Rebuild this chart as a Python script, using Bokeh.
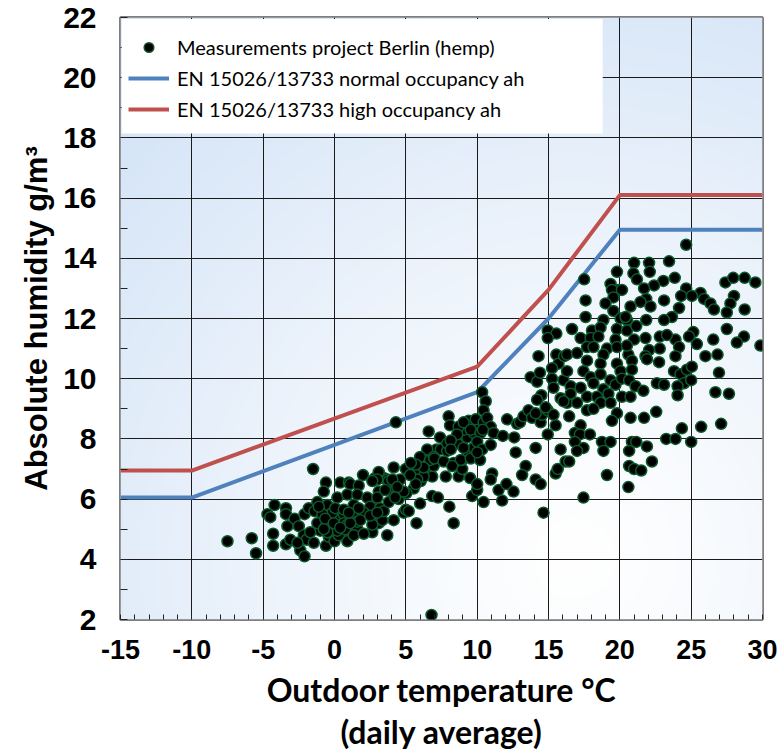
import numpy as np
from bokeh.plotting import figure
from bokeh.models import (Range1d, SingleIntervalTicker, Legend, LegendItem,
                          CustomJSTickFormatter, BoxAnnotation)
from bokeh.embed import file_html
from bokeh.resources import INLINE

# ---------------- data ----------------
# EN 15026 / 13733 limit curves (outdoor temperature vs. absolute humidity)
temp_std = [-15, -10, 10, 15, 20, 30]
ah_normal = [6.05, 6.05, 9.55, 12.0, 14.95, 14.95]
ah_high = [6.95, 6.95, 10.4, 12.95, 16.1, 16.1]

temp_cold = [-7.5, -5.8, -5.5, -1.5, -4.2, -4.7, -4.5, -3.4, -3.4, -4.3,
             -4.3, -3.3, -3.4, -3.1, -2.8, -2.1, -2.5, -2.15, -2.4, -2.1,
             -1.95, -1.8, -0.6, -0.75, -1.2, -1.4, -0.85, -1.0, -0.6, -0.4,
             -0.5, 0.2, 0.4, 1.0, 0.1, 0.0, 0.8, 0.65, 0.9, 0.3,
             0.9, 2.75, 1.25, -0.15, -0.85, -1.2, -0.6, 0.65, 1.35, 2.75,
             1.6, 0.2, -0.5, -1.45, -2.6, -1.7, -1.1, 2.65, 4.15, 4.85,
             3.1, 5.55, 3.45, 6.75, 6.85, 10.0,
             2.85, 3.7, 5.8, 6.05, 6.25, 6.95, 7.15, 4.5, 5.05, 0.05,
             1.95, 1.25, -0.65, -0.05, 0.9, 1.6, 3.35, -0.75, 0.75]
hum_cold = [4.6, 4.7, 4.2, 7.0, 5.8, 5.5, 5.4, 5.7, 5.5, 4.85,
            4.45, 5.1, 4.5, 4.65, 5.35, 5.5, 5.1, 4.8, 4.3, 4.1,
            4.65, 5.7, 6.55, 6.25, 5.9, 5.6, 5.25, 4.95, 4.45, 4.75,
            5.8, 6.05, 6.55, 6.55, 5.3, 4.6, 4.95, 5.5, 4.6, 4.8,
            6.15, 5.85, 5.6, 5.55, 5.5, 5.2, 5.1, 5.2, 5.3, 5.55,
            5.0, 4.95, 4.9, 4.55, 4.55, 4.9, 5.75, 4.9, 5.3, 5.55,
            5.2, 6.35, 6.7, 7.05, 6.75, 8.4,
            6.7, 6.65, 6.85, 6.6, 6.75, 7.1, 7.65, 6.0, 6.2, 5.7,
            5.45, 5.45, 5.35, 5.2, 5.15, 5.25, 5.3, 5.0, 5.0]

temp_mild = [4.3, 6.6, 8.0, 8.1, 7.4, 6.5, 6.0, 6.7, 6.25, 5.8,
             5.7, 5.0, 5.3, 4.6, 4.15, 3.1, 3.0, 2.0, 1.1, 1.7,
             1.6, 2.3, 3.1, 3.9, 4.4, 4.85, 3.8, 2.5, 3.2, 2.05,
             1.35, 0.65, 1.35, 2.05, 2.65, 3.7, 5.0, 5.2, 5.75, 6.0,
             6.85, 7.25, 8.05, 8.35, 7.8, 8.7, 9.5, 9.65, 8.95, 8.35,
             7.45, 7.9, 8.6, 9.3, 9.05, 9.75, 8.7, 9.4, 9.9, 8.95,
             9.3, 9.75, 10.0, 7.9, 6.95, 5.7, 5.35, 4.05, 4.4, 2.65,
             3.55, 3.0, 1.8, 1.1, 0.4, 2.5, 1.7, 1.0, 3.45, 3.8,
             4.25, 3.0,
             9.05, 10.45, 12.8, 9.55, 10.25, 8.6, 10.0, 8.15, 9.05, 10.35,
             8.15, 8.85, 9.55, 7.0, 7.65, 8.25]
hum_mild = [8.55, 8.25, 8.75, 8.45, 8.05, 7.65, 7.4, 7.3, 7.05, 6.65,
            6.5, 7.0, 6.8, 6.65, 7.05, 6.9, 6.65, 6.8, 6.5, 6.45,
            6.15, 6.05, 6.25, 6.3, 6.2, 6.25, 6.6, 5.75, 5.7, 5.55,
            5.8, 5.65, 4.8, 4.85, 5.15, 4.8, 5.65, 5.6, 5.2, 5.85,
            6.1, 6.05, 5.75, 5.2, 6.75, 6.75, 6.7, 6.1, 7.0, 7.2,
            7.65, 7.6, 7.85, 8.05, 8.3, 8.2, 8.4, 8.6, 8.65, 7.3,
            7.6, 7.7, 6.3, 7.85, 7.4, 7.15, 7.2, 6.65, 6.4, 6.6,
            6.3, 6.05, 5.3, 5.2, 5.05, 5.45, 5.7, 5.55, 5.6, 5.9,
            6.05, 5.55,
            8.55, 8.55, 8.5, 8.3, 8.2, 8.15, 7.9, 7.95, 7.7, 7.65,
            7.65, 7.3, 7.35, 7.35, 7.25, 7.1]

temp_warm = [14.95, 15.55, 14.95, 14.3, 15.55, 15.7, 15.25, 16.1, 13.75, 14.2,
             14.4, 15.25, 16.05, 15.35, 15.85, 16.3, 14.5, 14.2, 10.35, 10.6,
             10.45, 10.7, 10.95, 10.4, 11.15, 11.8, 12.1, 12.6, 10.95, 10.2,
             10.0, 13.0, 13.25, 13.6, 13.85, 14.45, 14.55, 14.95, 14.8, 15.5,
             14.95, 14.1, 12.7, 15.85, 13.4, 13.15, 14.1, 14.45, 15.5, 15.65,
             16.2, 11.05, 10.95, 10.0, 10.45, 11.5, 12.05, 12.55, 11.75, 14.65,
             14.1, 15.35]
hum_warm = [11.6, 11.5, 11.35, 10.75, 10.8, 10.5, 10.35, 10.75, 10.05, 9.9,
            10.2, 10.0, 9.95, 9.7, 9.35, 9.2, 9.45, 9.3, 9.55, 9.25,
            8.95, 8.7, 8.4, 8.3, 8.2, 8.1, 8.65, 8.05, 7.8, 7.3,
            7.55, 8.55, 8.75, 8.95, 8.7, 8.55, 8.8, 8.95, 9.05, 8.45,
            8.15, 7.7, 7.55, 7.65, 7.1, 6.8, 6.65, 6.5, 6.85, 7.0,
            7.25, 6.85, 6.65, 6.5, 5.9, 6.3, 6.5, 6.25, 5.95, 5.55,
            8.85, 8.8]

temp_summer = [21.0, 20.95, 19.8, 17.5, 19.35, 19.9, 19.45, 19.55, 17.6, 19.0,
               20.75, 19.55, 17.6, 20.05, 20.5, 18.85, 16.65, 18.05, 18.65, 19.8,
               20.5, 17.25, 17.95, 18.5, 19.7, 21.0, 17.7, 19.1, 19.8, 18.15,
               16.3, 17.0, 18.85, 20.6, 20.85, 17.7, 18.65, 19.8, 16.3, 17.45,
               20.05, 20.85, 17.95, 18.65, 19.35, 19.7, 20.15, 20.65, 21.1, 16.55,
               17.25, 18.15, 18.85, 16.55, 17.7, 18.4, 19.2, 20.15, 20.75, 16.05,
               17.0, 18.65, 17.7, 18.15, 19.8, 19.35, 16.45, 20.75, 17.25, 19.45,
               16.85, 17.2, 17.9, 16.85, 18.75, 19.35, 17.45, 18.85, 20.85, 20.65,
               17.0, 16.45, 20.65, 19.1, 21.0, 20.6, 17.45, 6.8]
hum_summer = [13.85, 13.5, 13.55, 13.3, 13.15, 12.95, 12.95, 12.7, 12.6, 12.5,
              12.4, 12.25, 12.05, 12.0, 11.95, 11.95, 11.65, 11.6, 11.7, 11.65,
              11.6, 11.35, 11.35, 11.4, 11.3, 11.3, 11.05, 11.0, 11.05, 11.05,
              10.8, 10.85, 10.8, 10.8, 10.6, 10.6, 10.5, 10.5, 10.25, 10.25,
              10.25, 10.3, 10.05, 10.15, 9.95, 9.8, 10.0, 9.95, 9.75, 9.75,
              9.7, 9.85, 9.65, 9.5, 9.4, 9.4, 9.5, 9.4, 9.4, 9.25,
              9.2, 9.2, 8.95, 9.0, 8.85, 9.2, 8.75, 8.7, 8.45, 8.6,
              8.2, 8.15, 8.15, 7.9, 7.9, 7.9, 7.7, 7.6, 7.9, 7.6,
              7.6, 7.25, 7.1, 6.8, 7.0, 6.4, 6.05, 2.15]

temp_hot = [24.65, 22.05, 23.45, 22.1, 21.2, 23.05, 23.85, 22.4, 21.7, 20.15,
            24.65, 25.65, 24.3, 25.05, 25.9, 27.4, 27.95, 28.75, 29.5, 28.0,
            27.75, 26.35, 26.6, 27.5, 28.75, 23.1, 21.85, 21.45, 22.15,
            24.15, 23.65, 23.1, 21.85, 20.4, 21.15, 27.5, 25.15, 24.85, 26.55,
            28.7, 28.2, 29.85, 22.8, 21.8, 23.9, 25.4, 23.3, 24.15, 22.8,
            22.05, 20.5, 26.0, 26.85, 23.9, 21.8, 22.75, 21.9, 23.8, 24.25,
            24.7, 25.05, 26.95, 24.5, 25.0, 24.05, 22.6, 23.1, 21.65, 24.05,
            26.7, 27.65, 22.55, 21.7, 24.35, 25.7, 27.1, 23.25, 23.9, 25.0,
            21.15, 21.9, 22.25, 21.5]
hum_hot = [14.45, 13.85, 13.9, 13.55, 13.3, 13.25, 13.35, 13.1, 13.0, 12.95,
           13.0, 12.85, 12.75, 12.75, 12.65, 13.2, 13.35, 13.35, 13.2, 12.75,
           12.5, 12.5, 12.3, 12.2, 12.3, 12.6, 12.65, 12.55, 12.4,
           12.35, 12.05, 11.95, 11.95, 12.05, 11.75, 11.65, 11.55, 11.4, 11.3,
           11.4, 11.2, 11.1, 11.4, 11.35, 11.3, 11.15, 11.45, 11.05, 11.0,
           10.95, 11.1, 10.75, 10.8, 10.75, 10.75, 10.55, 10.65, 10.25, 10.15,
           10.3, 10.4, 10.2, 9.85, 9.95, 9.75, 9.85, 9.8, 9.6, 9.45,
           9.55, 9.5, 8.9, 8.7, 8.35, 8.4, 8.5, 8.0, 8.0, 7.9,
           7.9, 7.75, 7.25, 6.95]

x_ticks_interval = 5
y_ticks_interval = 2

temps = temp_cold + temp_mild + temp_warm + temp_summer + temp_hot
hums = hum_cold + hum_mild + hum_warm + hum_summer + hum_hot
n = min(len(temps), len(hums))
temps, hums = temps[:n], hums[:n]

# ---------------- figure ----------------
p = figure(width=778, height=754, output_backend="svg", toolbar_location=None,
           x_range=Range1d(-15, 30), y_range=Range1d(2, 22),
           min_border_left=120, min_border_right=16,
           min_border_top=17, min_border_bottom=134)

# soft blue background gradient (styling only)
nx, ny = 240, 200
gx, gy = np.meshgrid(np.linspace(0, 642, nx), np.linspace(0, 603, ny))
dist = np.sqrt((gx - 455) ** 2 + (gy - 60) ** 2)
t = np.clip(dist / 640.0, 0, 1) ** 1.2
img = np.empty((ny, nx), dtype=np.uint32)
view = img.view(dtype=np.uint8).reshape((ny, nx, 4))
view[..., 0] = (255 + (212 - 255) * t).astype(np.uint8)
view[..., 1] = (255 + (228 - 255) * t).astype(np.uint8)
view[..., 2] = (255 + (247 - 255) * t).astype(np.uint8)
view[..., 3] = 255
p.image_rgba(image=[img], x=-15, y=2, dw=45, dh=20, level="image")

p.outline_line_color = "#7f7f7f"
p.outline_line_width = 3
p.background_fill_color = "white"
p.border_fill_color = "white"

p.xaxis.ticker = SingleIntervalTicker(interval=x_ticks_interval, num_minor_ticks=5)
p.yaxis.ticker = SingleIntervalTicker(interval=y_ticks_interval, num_minor_ticks=2)
p.xaxis.formatter = CustomJSTickFormatter(code="return tick.toFixed(0);")
p.yaxis.formatter = CustomJSTickFormatter(code="return tick.toFixed(0);")

for ax in (p.xaxis[0], p.yaxis[0]):
    ax.axis_line_color = None
    ax.major_tick_in = 0
    ax.major_tick_out = 0
    ax.minor_tick_out = 0
    ax.minor_tick_line_color = "#222222"
    ax.minor_tick_line_width = 1
    ax.major_label_text_font_style = "bold"
    ax.major_label_text_color = "black"
    ax.axis_label_text_color = "black"
    ax.axis_label_text_font_style = "bold"

p.xaxis.minor_tick_in = 5
p.yaxis.minor_tick_in = 7

p.xaxis.major_label_text_font = "Liberation Sans"
p.xaxis.major_label_text_font_size = "27px"
p.xaxis.major_label_standoff = 20
p.yaxis.major_label_text_font = "Liberation Sans"
p.yaxis.major_label_text_font_size = "30px"
p.yaxis.major_label_standoff = 24

p.xaxis.axis_label = "Outdoor temperature °C\n(daily average)"
p.xaxis.axis_label_text_font = "Lato"
p.xaxis.axis_label_text_font_size = "32px"
p.xaxis.axis_label_text_line_height = 1.1
p.xaxis.axis_label_standoff = 8

p.yaxis.axis_label = "Absolute humidity g/m³"
p.yaxis.axis_label_text_font = "Liberation Sans"
p.yaxis.axis_label_text_font_size = "31px"
p.yaxis.axis_label_standoff = 6

p.grid.grid_line_color = "#1a1a1a"
p.grid.grid_line_width = 1

# limit curves and measurements
r_norm = p.line(temp_std, ah_normal, line_color="#4f81bd", line_width=4)
r_high = p.line(temp_std, ah_high, line_color="#c0504d", line_width=4)
r_meas = p.scatter(temps, hums, size=11, marker="circle", fill_color="black",
                   line_color="#0b5a2c", line_width=1.5)

# white panel behind the legend
p.add_layout(BoxAnnotation(left=-14.92, right=18.8, bottom=18.15, top=21.95,
                           fill_color="white", fill_alpha=1.0, line_color=None))

# legend location is the bottom-left corner, in pixels from the frame's bottom-left
legend = Legend(items=[
    LegendItem(label="Measurements project Berlin (hemp)", renderers=[r_meas]),
    LegendItem(label="EN 15026/13733 normal occupancy ah", renderers=[r_norm]),
    LegendItem(label="EN 15026/13733 high occupancy ah", renderers=[r_high]),
], location=(8, 498))
legend.background_fill_alpha = 0.0
legend.border_line_color = None
legend.margin = 0
legend.spacing = 7
legend.label_height = 24
legend.glyph_height = 24
legend.glyph_width = 41
legend.label_standoff = 8
legend.label_text_font = "Lato"
legend.label_text_font_size = "20px"
legend.label_text_color = "black"
p.add_layout(legend)

open("out.html", "w").write(file_html(p, INLINE))
